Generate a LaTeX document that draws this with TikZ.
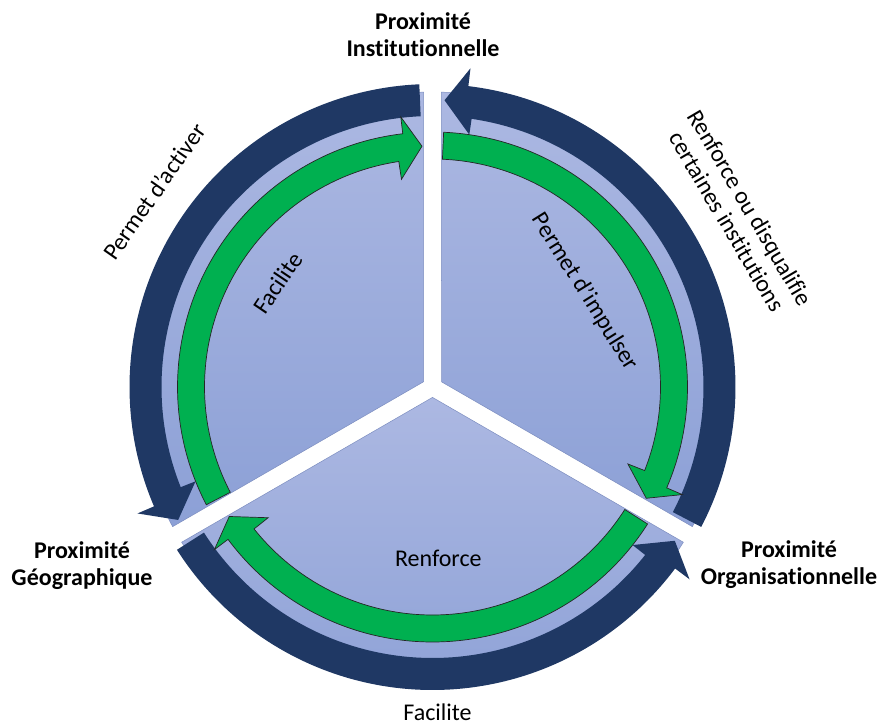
\documentclass[tikz,border=0pt]{standalone}
\usepackage{fontspec}
\setmainfont[Ligatures=NoCommon]{Carlito}
\definecolor{navy}{RGB}{31,56,100}
\definecolor{grn}{RGB}{0,176,80}
\definecolor{segtop}{RGB}{172,184,226}
\definecolor{segbot}{RGB}{140,160,214}
\definecolor{segline}{RGB}{125,142,192}
\tikzset{
  segment/.style={top color=segtop, bottom color=segbot, draw=segline, line width=0.5pt},
  navyarrow/.style={fill=navy},
  greenarrow/.style={fill=grn, draw=black!85, line width=0.7pt, line join=miter},
  lbl/.style={font=\fontsize{24}{27}\selectfont, text=black, inner sep=0pt},
  boldlbl/.style={font=\fontsize{24}{27}\selectfont\bfseries, text=black, align=center, inner sep=0pt},
}
\begin{document}
\begin{tikzpicture}[x=1pt,y=1pt]
\useasboundingbox (-432.5,-338) rectangle (449.5,387);
% three sectors of the disc
\path[segment] (150:10.392pt) -- (91.748:295pt) arc[start angle=91.748, end angle=208.252, radius=295pt] -- cycle;
\path[segment] (270:10.392pt) -- (211.748:295pt) arc[start angle=211.748, end angle=328.252, radius=295pt] -- cycle;
\path[segment] (30:10.392pt) -- (331.748:295pt) arc[start angle=331.748, end angle=448.252, radius=295pt] -- cycle;
% outer navy arrows (counterclockwise)
\foreach \a in {90,210,330} {
  \path[navyarrow] ({\a+2.5}:303pt) arc[start angle=\a+2.5, end angle=\a+113.2, radius=303pt]
    -- ({\a+113.2}:321pt) -- ({\a+117.6}:287pt) -- ({\a+111.7}:255pt) -- ({\a+111.7}:271pt)
    arc[start angle=\a+111.7, end angle=\a+2.5, radius=271pt] -- cycle;
}
% inner green arrows (clockwise)
\foreach \a in {210,330,450} {
  \path[greenarrow] ({\a-2.5}:255pt) arc[start angle=\a-2.5, end angle=\a-113.3, radius=255pt]
    -- ({\a-113.3}:272pt) -- ({\a-117.5}:241pt) -- ({\a-111.5}:210pt) -- ({\a-111.5}:228pt)
    arc[start angle=\a-111.5, end angle=\a-2.5, radius=228pt] -- cycle;
}
% labels
\node[boldlbl] (inst) at (-9.5,352) {Proximité\\Institutionnelle};
\node[boldlbl] (geo) at (-350.5,-179) {Proximité\\Géographique};
\node[boldlbl] (org) at (356.5,-178) {Proximité\\Organisationnelle};
\node[lbl, anchor=base] (renf) at (5.8,-179.7) {Renforce};
\node[lbl, anchor=base] (facb) at (5,-333) {Facilite};
\node[lbl, rotate=55] (pact) at (-278.3,195.3) {Permet d’activer};
\node[lbl, rotate=56] (faci) at (-154.5,104) {Facilite};
\node[lbl, rotate=-58] (pimp) at (152.5,95) {Permet d’impulser};
\node[lbl, rotate=-59.5, align=center] (rdis) at (306.3,172.3) {Renforce ou disqualifie\\certaines institutions};
\end{tikzpicture}
\end{document}
